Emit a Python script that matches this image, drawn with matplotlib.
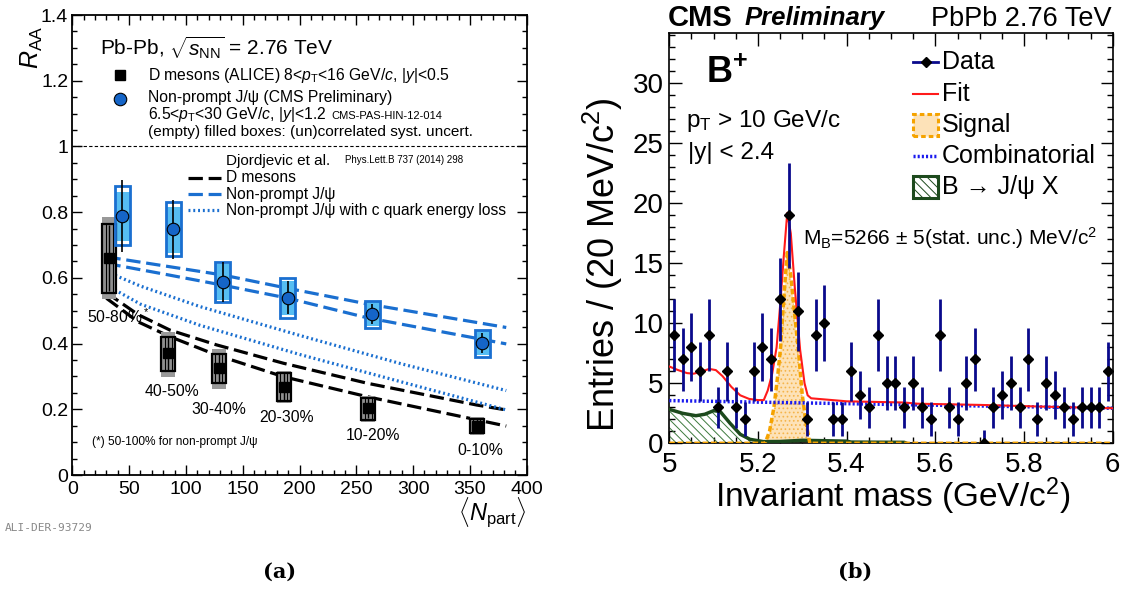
import numpy as np
import matplotlib
matplotlib.use("Agg")
import matplotlib.pyplot as plt
from matplotlib.patches import Rectangle
from matplotlib.ticker import MultipleLocator, FixedLocator, FixedFormatter

plt.rcParams['font.family'] = ['Liberation Sans', 'DejaVu Sans']
plt.rcParams['mathtext.fontset'] = 'custom'
plt.rcParams['mathtext.rm'] = 'Liberation Sans'
plt.rcParams['mathtext.it'] = 'Liberation Sans:italic'
plt.rcParams['mathtext.bf'] = 'Liberation Sans:bold'
plt.rcParams['hatch.linewidth'] = 0.7

# ---- panel (a): R_AA vs Npart ----
d_npart = [32.6, 84.5, 128.9, 186.2, 260.4, 356.1]
d_raa = [0.66, 0.37, 0.325, 0.269, 0.203, 0.150]
d_stat = [0.10, 0.05, 0.045, 0.04, 0.03, 0.02]
d_unc_lo = [0.555, 0.318, 0.279, 0.226, 0.168, 0.127]
d_unc_hi = [0.764, 0.421, 0.367, 0.309, 0.233, 0.170]
d_cor_lo = [0.535, 0.299, 0.262, 0.218, 0.160, 0.122]
d_cor_hi = [0.786, 0.436, 0.383, 0.318, 0.240, 0.176]
cent_labels = ["50-80%$^*$", "40-50%", "30-40%", "20-30%", "10-20%", "0-10%"]

j_npart = [44.0, 89.0, 132.4, 189.7, 264.2, 360.8]
j_raa = [0.788, 0.748, 0.588, 0.540, 0.489, 0.401]
j_stat = [0.11, 0.09, 0.06, 0.05, 0.03, 0.03]
j_unc_lo = [0.700, 0.666, 0.527, 0.479, 0.448, 0.360]
j_unc_hi = [0.879, 0.832, 0.647, 0.599, 0.530, 0.441]
j_cor_lo = [0.712, 0.676, 0.533, 0.488, 0.452, 0.364]
j_cor_hi = [0.862, 0.816, 0.642, 0.590, 0.526, 0.437]

# Djordjevic et al. bands
th_d_n = [30, 58, 86, 127, 186, 260, 356, 382]
th_d_hi = [0.555, 0.488, 0.441, 0.396, 0.340, 0.279, 0.213, 0.198]
th_d_lo = [0.538, 0.466, 0.421, 0.365, 0.299, 0.238, 0.168, 0.149]
th_j_n = [30, 80, 132, 190, 259, 382]
th_j_hi = [0.664, 0.637, 0.609, 0.568, 0.521, 0.449]
th_j_lo = [0.644, 0.612, 0.578, 0.538, 0.479, 0.399]
th_c_n = [30, 60, 112, 200, 289, 382]
th_c_hi = [0.619, 0.575, 0.513, 0.425, 0.339, 0.257]
th_c_lo = [0.578, 0.520, 0.456, 0.367, 0.284, 0.198]

# ---- panel (b): B+ invariant mass ----
mass_bins = np.arange(5.01, 6.0, 0.02)
counts = [9, 7, 8, 6, 9, 3, 6, 3, 2, 6,
          8, 7, 12, 19, 11, 2, 9, 10, 2, 2,
          6, 4, 3, 9, 5, 5, 3, 5, 3, 2,
          9, 3, 2, 5, 7, 0, 3, 4, 5, 3,
          7, 2, 5, 4, 3, 2, 3, 3, 3, 6]

fit_m = [5.000, 5.020, 5.040, 5.055, 5.070, 5.090, 5.105, 5.120, 5.140, 5.160,
         5.180, 5.200, 5.213, 5.222, 5.232, 5.242, 5.250, 5.258, 5.266, 5.274,
         5.283, 5.295, 5.305, 5.312, 5.320, 5.400, 5.530, 5.560, 5.700, 5.850, 6.000]
fit_v = [6.40, 6.10, 5.85, 5.80, 5.95, 6.20, 6.10, 5.60, 4.70, 4.00,
         3.70, 3.60, 3.60, 4.40, 5.80, 8.00, 11.5, 15.5, 19.2, 17.5,
         13.0, 7.8, 5.0, 4.0, 3.75, 3.50, 3.40, 3.30, 3.20, 3.05, 2.92]
sig_m = [5.000, 5.216, 5.226, 5.236, 5.245, 5.251, 5.258, 5.266, 5.274, 5.282,
         5.291, 5.300, 5.308, 5.317, 6.000]
sig_v = [0, 0, 1.0, 3.0, 5.8, 8.0, 12.0, 15.9, 14.0, 11.0, 7.8, 4.0, 1.8, 0, 0]
comb_m = [5.0, 6.0]
comb_v = [3.56, 2.92]
bjx_m = [5.000, 5.030, 5.060, 5.080, 5.100, 5.115, 5.137, 5.160, 5.182, 5.212,
         5.250, 5.300, 5.400, 5.410, 5.530, 5.535]
bjx_v = [2.83, 2.50, 2.30, 2.42, 2.72, 2.64, 1.67, 0.75, 0.33, 0.14,
         0.15, 0.25, 0.18, 0.10, 0.08, 0.0]

W, H = 1140, 590
fig = plt.figure(figsize=(11.4, 5.9), dpi=100)


def fx(x):
    return x / W


def fy(y):
    return 1 - y / H


ax1 = fig.add_axes([fx(72.3), fy(475), (526.7 - 72.3) / W, 460 / H])
ax2 = fig.add_axes([fx(669.3), fy(443.3), (1112.7 - 669.3) / W, 410 / H])

blue = '#1a6fd0'
boxfill = '#56bdf2'
grey = '#999999'
dash = (0, (4.5, 1.8))
dots = (0, (0.6, 0.9))

# reference line
ax1.axhline(1.0, color='k', lw=0.8, ls=(0, (3, 2)))

# theory curves
ax1.plot(th_d_n, th_d_hi, color='k', lw=2.3, ls=dash)
ax1.plot(th_d_n, th_d_lo, color='k', lw=2.3, ls=dash)
ax1.plot(th_j_n, th_j_hi, color=blue, lw=2.3, ls=dash)
ax1.plot(th_j_n, th_j_lo, color=blue, lw=2.3, ls=dash)
ax1.plot(th_c_n, th_c_hi, color=blue, lw=2.3, ls=dots)
ax1.plot(th_c_n, th_c_lo, color=blue, lw=2.3, ls=dots)

# D meson boxes
hw = 6.3
for i in range(len(d_npart)):
    n = d_npart[i]
    ax1.add_patch(Rectangle((n - hw, d_cor_lo[i]), 2 * hw, d_cor_hi[i] - d_cor_lo[i],
                            facecolor=grey, edgecolor='none', zorder=3))
    ax1.add_patch(Rectangle((n - hw, d_unc_lo[i]), 2 * hw, d_unc_hi[i] - d_unc_lo[i],
                            facecolor='#8f8f8f', edgecolor='k', lw=1.6, zorder=4))
    for s in (-0.5, 0.5):
        ax1.plot([n + s * hw, n + s * hw], [d_unc_lo[i], d_unc_hi[i]], color='k', lw=0.8, zorder=4)
ax1.errorbar(d_npart, d_raa, yerr=d_stat, fmt='s', color='k', ms=7, elinewidth=1.0,
             capsize=0, zorder=6)

# non-prompt J/psi boxes
jhw = 6.6
for i in range(len(j_npart)):
    n = j_npart[i]
    ax1.add_patch(Rectangle((n - jhw, j_cor_lo[i]), 2 * jhw, j_cor_hi[i] - j_cor_lo[i],
                            facecolor=boxfill, edgecolor='none', zorder=3))
    ax1.add_patch(Rectangle((n - jhw, j_unc_lo[i]), 2 * jhw, j_unc_hi[i] - j_unc_lo[i],
                            facecolor='none', edgecolor=blue, lw=2, zorder=4))
ax1.errorbar(j_npart, j_raa, yerr=j_stat, xerr=5, fmt='o', mfc='#1565c8', mec='k', mew=0.8,
             ms=9, ecolor='k', elinewidth=1.2, capsize=0, zorder=6)

ax1.set_xlim(0, 400)
ax1.set_ylim(0, 1.4)
ax1.xaxis.set_major_locator(MultipleLocator(50))
ax1.xaxis.set_minor_locator(MultipleLocator(10))
ax1.yaxis.set_major_locator(FixedLocator([0, 0.2, 0.4, 0.6, 0.8, 1.0, 1.2, 1.4]))
ax1.yaxis.set_major_formatter(FixedFormatter(['0', '0.2', '0.4', '0.6', '0.8', '1', '1.2', '1.4']))
ax1.yaxis.set_minor_locator(MultipleLocator(0.05))
ax1.tick_params(which='both', direction='in', top=True, right=True, labelsize=14, width=1)
ax1.tick_params(which='major', length=7)
ax1.tick_params(which='minor', length=3.5)
ax1.tick_params(axis='y', pad=3)
ax1.tick_params(axis='x', pad=4)
for sp in ax1.spines.values():
    sp.set_linewidth(1.3)

# panel (a) texts
ax1.text(24.5, 1.30, r"Pb-Pb, $\sqrt{s_{\rm NN}}$ = 2.76 TeV", fontsize=15, va='center')
ax1.plot([42], [1.217], 's', color='k', ms=7)
ax1.text(66.7, 1.217, r"D mesons (ALICE) 8<$p_{\rm T}$<16 GeV/$c$, |$y$|<0.5", fontsize=11.3, va='center')
ax1.plot([42], [1.144], 'o', mfc='#1565c8', mec='k', mew=0.8, ms=9)
ax1.text(66.7, 1.150, "Non-prompt J/ψ (CMS Preliminary)", fontsize=11.3, va='center')
ax1.text(66.7, 1.096, r"6.5<$p_{\rm T}$<30 GeV/$c$, |$y$|<1.2", fontsize=11.3, va='center')
ax1.text(228, 1.093, "CMS-PAS-HIN-12-014", fontsize=8, va='center')
ax1.text(66.7, 1.044, "(empty) filled boxes: (un)correlated syst. uncert.", fontsize=11.1, va='center')
ax1.text(135.4, 0.956, "Djordjevic et al.", fontsize=11, va='center')
ax1.text(240, 0.960, "Phys.Lett.B 737 (2014) 298", fontsize=7, va='center')
leg_y = [0.904, 0.855, 0.806]
ax1.plot([102, 131], [leg_y[0]] * 2, color='k', lw=2.3, ls=dash)
ax1.plot([102, 131], [leg_y[1]] * 2, color=blue, lw=2.3, ls=dash)
ax1.plot([102, 131], [leg_y[2]] * 2, color=blue, lw=2.3, ls=dots)
ax1.text(135.4, leg_y[0], "D mesons", fontsize=11.2, va='center')
ax1.text(135.4, leg_y[1], "Non-prompt J/ψ", fontsize=11.2, va='center')
ax1.text(135.4, leg_y[2], "Non-prompt J/ψ with c quark energy loss", fontsize=11.2, va='center')

cent_pos = [(40.5, 0.482), (87.5, 0.253), (129.2, 0.200), (188.8, 0.175), (264.4, 0.119), (359.5, 0.074)]
for lab, (px, py) in zip(cent_labels, cent_pos):
    ax1.text(px, py, lab, fontsize=11.3, ha='center', va='center')
ax1.text(17.6, 0.099, "(*) 50-100% for non-prompt J/ψ", fontsize=8.6, va='center')

fig.text(fx(32), fy(47), r"$R_{\rm AA}$", fontsize=18, rotation=90, ha='center', va='center')
fig.text(fx(492), fy(513), r"$\langle N_{\rm part}\rangle$", fontsize=17, ha='center', va='center')
fig.text(fx(5), fy(528), "ALI-DER-93729", fontsize=8, color='#888888', family='DejaVu Sans Mono',
         va='center')

# ---- panel (b) ----
ax2.fill_between(sig_m, 0, sig_v, facecolor='#fde2b8', edgecolor='#f5b44a', hatch='....',
                 lw=0, zorder=2)
ax2.fill_between(bjx_m, 0, bjx_v, facecolor='none', edgecolor='#3d7a3d', hatch='\\\\\\\\', lw=0,
                 zorder=2)
ax2.plot(bjx_m, bjx_v, color='#1d4a1d', lw=2.5, zorder=3)
ax2.plot(sig_m, sig_v, color='#f5a300', lw=2.5, ls=(0, (1.6, 0.8)), zorder=4)
ax2.plot(comb_m, comb_v, color='#1a1aee', lw=2.5, ls=(0, (0.6, 0.6)), zorder=4)
ax2.plot(fit_m, fit_v, color='#ff1a1a', lw=1.5, zorder=5)

c = np.array(counts, dtype=float)
err_lo = np.sqrt(c)
err_hi = np.where(c > 0, np.sqrt(c), 1.1)
ax2.errorbar(mass_bins, c, yerr=[err_lo, err_hi], xerr=0.009, fmt='D', mfc='k', mec='k', ms=5.5,
             ecolor='#0a0a8c', elinewidth=2, capsize=0, zorder=6)

ax2.set_xlim(5, 6)
ax2.set_ylim(0, 34.17)
ax2.xaxis.set_major_locator(FixedLocator([5, 5.2, 5.4, 5.6, 5.8, 6]))
ax2.xaxis.set_major_formatter(FixedFormatter(['5', '5.2', '5.4', '5.6', '5.8', '6']))
ax2.xaxis.set_minor_locator(MultipleLocator(0.05))
ax2.yaxis.set_major_locator(MultipleLocator(5))
ax2.yaxis.set_minor_locator(MultipleLocator(1))
ax2.tick_params(which='both', direction='in', top=True, right=True, labelsize=20, width=1)
ax2.tick_params(which='major', length=9)
ax2.tick_params(which='minor', length=4.5)
ax2.tick_params(axis='x', pad=6)
ax2.tick_params(axis='y', pad=4)
for sp in ax2.spines.values():
    sp.set_linewidth(1.2)

fig.text(fx(893), fy(496), r"Invariant mass (GeV/c$^2$)", fontsize=24, ha='center', va='center')
fig.text(fx(603), fy(265), r"Entries / (20 MeV/c$^2$)", fontsize=26, rotation=90, ha='center',
         va='center')

fig.text(fx(668), fy(25.5), "CMS", fontsize=21, weight='bold', va='baseline')
fig.text(fx(745), fy(25.5), "Preliminary", fontsize=18.5, weight='bold', style='italic', va='baseline')
fig.text(fx(1112), fy(25.5), "PbPb 2.76 TeV", fontsize=19.5, ha='right', va='baseline')


def ax_pt(x, y):
    return ((x - 669.3) / 443.4, (443.3 - y) / 410)


tx, ty = ax_pt(706, 83)
ax2.text(tx, ty, r"$\mathbf{B^{+}}$", transform=ax2.transAxes, fontsize=26, va='baseline')
tx, ty = ax_pt(686, 121)
ax2.text(tx, ty, r"p$_{\rm T}$ > 10 GeV/c", transform=ax2.transAxes, fontsize=17.5, va='center')
tx, ty = ax_pt(688, 153)
ax2.text(tx, ty, "|y| < 2.4", transform=ax2.transAxes, fontsize=17.5, va='center')
tx, ty = ax_pt(803, 238)
ax2.text(tx, ty, r"M$_{\rm B}$=5266 $\pm$ 5(stat. unc.) MeV/c$^2$", transform=ax2.transAxes,
         fontsize=15, va='center')

# legend of panel (b)
rows = [62, 94, 125, 156, 187]
names = ["Data", "Fit", "Signal", "Combinatorial", "B → J/ψ X"]
x0, _ = ax_pt(913, 0)
x1, _ = ax_pt(938, 0)
xt, _ = ax_pt(942, 0)
hb = 22 / 410
for k, (r, name) in enumerate(zip(rows, names)):
    _, yy = ax_pt(0, r)
    ax2.text(xt, yy, name, transform=ax2.transAxes, fontsize=18, va='center')
    if k == 0:
        ax2.plot([x0, x1], [yy, yy], color='#0a0a8c', lw=2, transform=ax2.transAxes, clip_on=False)
        ax2.plot([(x0 + x1) / 2], [yy], 'D', color='k', ms=5, transform=ax2.transAxes, clip_on=False)
    elif k == 1:
        ax2.plot([x0, x1], [yy, yy], color='#ff1a1a', lw=1.5, transform=ax2.transAxes)
    elif k == 2:
        ax2.add_patch(Rectangle((x0, yy - hb / 2), x1 - x0, hb, transform=ax2.transAxes,
                                facecolor='#fde2b8', edgecolor='#f5a300', lw=2.2, ls=(0, (1.5, 1))))
    elif k == 3:
        ax2.plot([x0, x1], [yy, yy], color='#1a1aee', lw=2.5, ls=(0, (0.6, 0.6)), transform=ax2.transAxes)
    else:
        ax2.add_patch(Rectangle((x0, yy - hb / 2), x1 - x0, hb, transform=ax2.transAxes,
                                facecolor='white', edgecolor='#1d4a1d', lw=2.2, hatch='\\\\\\\\'))

fig.text(fx(280), fy(572), "(a)", fontsize=15, weight='bold', family='DejaVu Serif', ha='center',
         va='center')
fig.text(fx(855), fy(572), "(b)", fontsize=15, weight='bold', family='DejaVu Serif', ha='center',
         va='center')

fig.savefig("out.png", dpi=100)
